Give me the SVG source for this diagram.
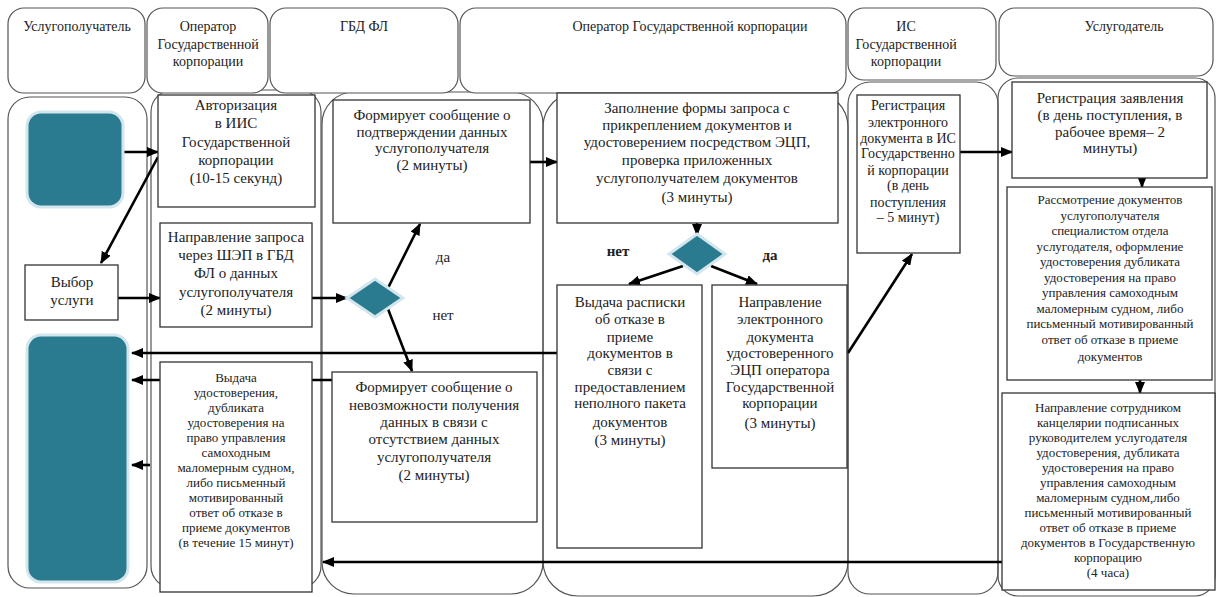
<svg xmlns="http://www.w3.org/2000/svg" width="1217" height="597" viewBox="0 0 1217 597">
<defs>
<style>
.lane{fill:none;stroke:#555;stroke-width:1.2}
.hdr{fill:#fff;stroke:#555;stroke-width:1.2}
.box{fill:#fff;stroke:#333;stroke-width:1.3}
.t{font-family:'Liberation Serif','Times New Roman','DejaVu Serif',serif;font-size:15px;fill:#222;text-anchor:middle}
.h{font-size:14px}
.m{font-size:14px}
.s{font-size:13px}
.b{font-weight:bold}
.c{stroke:#000;stroke-width:2.6;fill:none;marker-end:url(#ah)}
.teal{fill:#2a7a90;stroke:#d3e6ed;stroke-width:3}
</style>
<marker id="ah" markerWidth="12" markerHeight="10" refX="11" refY="5" orient="auto" markerUnits="userSpaceOnUse"><path d="M0,0 L12,5 L0,10 z" fill="#000"/></marker>
</defs>
<rect width="1217" height="597" fill="#fff"/>

<g id="lanes">
<rect class="lane" x="8" y="97" width="139" height="491" rx="22"/>
<rect class="lane" x="151" y="90" width="170" height="498" rx="22"/>
<rect class="lane" x="322" y="92" width="221" height="502" rx="32"/>
<rect class="lane" x="543" y="92" width="305" height="504" rx="35"/>
<rect class="lane" x="848" y="82" width="150" height="512" rx="22"/>
<rect class="lane" x="998" y="78" width="217" height="518" rx="20"/>
</g>

<g id="headers">
<g id="h1"><rect class="hdr" x="8" y="8" width="137" height="85" rx="16"/><text class="t h" x="77" y="31">Услугополучатель</text></g>
<g id="h2"><rect class="hdr" x="147" y="8" width="121" height="85" rx="16"/><text class="t h"><tspan x="208" y="31">Оператор</tspan><tspan x="208" y="49">Государственной</tspan><tspan x="208" y="66">корпорации</tspan></text></g>
<g id="h3"><rect class="hdr" x="270" y="8" width="188" height="85" rx="16"/><text class="t h" x="364" y="31">ГБД ФЛ</text></g>
<g id="h4"><rect class="hdr" x="460" y="8" width="386" height="85" rx="16"/><text class="t h" x="690" y="31">Оператор Государственной корпорации</text></g>
<g id="h5"><rect class="hdr" x="848" y="8" width="148" height="72" rx="16"/><text class="t h"><tspan x="906" y="31">ИС</tspan><tspan x="906" y="49">Государственной</tspan><tspan x="906" y="66">корпорации</tspan></text></g>
<g id="h6"><rect class="hdr" x="999" y="8" width="214" height="68" rx="16"/><text class="t h" x="1124" y="31">Услугодатель</text></g>
</g>

<g id="connectors">
<line class="c" x1="123" y1="152" x2="158" y2="152"/>
<line class="c" x1="158" y1="157" x2="101" y2="263"/>
<line class="c" x1="118" y1="298" x2="160" y2="298"/>
<line class="c" x1="312" y1="298" x2="347" y2="298"/>
<line class="c" x1="388" y1="288" x2="420" y2="224"/>
<line class="c" x1="388" y1="309" x2="412" y2="371"/>
<line class="c" x1="530" y1="162" x2="557" y2="162"/>
<line class="c" x1="697" y1="223" x2="697" y2="235"/>
<line class="c" x1="683" y1="266" x2="629" y2="284"/>
<line class="c" x1="711" y1="266" x2="757" y2="284"/>
<line class="c" x1="557" y1="353" x2="132" y2="353"/>
<line class="c" x1="332" y1="380" x2="132" y2="380"/>
<line class="c" x1="150" y1="465" x2="132" y2="465"/>
<line class="c" x1="848" y1="353" x2="912" y2="254"/>
<line class="c" x1="960" y1="152" x2="1012" y2="152"/>
<line class="c" x1="1142" y1="178" x2="1142" y2="187"/>
<line class="c" x1="1140" y1="380" x2="1140" y2="393"/>
<line class="c" x1="1005" y1="562" x2="323" y2="562"/>
</g>

<g id="start"><rect class="teal" x="27" y="112" width="96" height="95" rx="14"/></g>
<g id="end"><rect class="teal" x="27" y="335" width="101" height="247" rx="14"/></g>

<g id="choose"><rect class="box" x="25" y="265" width="93" height="55"/><text class="t"><tspan x="72" y="287">Выбор</tspan><tspan x="72" y="305">услуги</tspan></text></g>

<g id="auth"><rect class="box" x="158" y="95" width="157" height="112"/><text class="t"><tspan x="236" y="110">Авторизация</tspan><tspan x="236" y="128">в ИИС</tspan><tspan x="236" y="147">Государственной</tspan><tspan x="236" y="165">корпорации</tspan><tspan x="236" y="183">(10-15 секунд)</tspan></text></g>

<g id="request"><rect class="box" x="160" y="223" width="152" height="104"/><text class="t"><tspan x="236" y="242">Направление запроса</tspan><tspan x="236" y="260">через ШЭП в ГБД</tspan><tspan x="236" y="278">ФЛ о данных</tspan><tspan x="236" y="297">услугополучателя</tspan><tspan x="236" y="315">(2 минуты)</tspan></text></g>

<g id="issue"><rect class="box" x="160" y="362" width="152" height="230"/><text class="t s"><tspan x="236" y="382">Выдача</tspan><tspan x="236" y="397">удостоверения,</tspan><tspan x="236" y="412">дубликата</tspan><tspan x="236" y="427">удостоверения на</tspan><tspan x="236" y="442">право управления</tspan><tspan x="236" y="457">самоходным</tspan><tspan x="236" y="472">маломерным судном,</tspan><tspan x="236" y="487">либо письменный</tspan><tspan x="236" y="502">мотивированный</tspan><tspan x="236" y="517">ответ об отказе в</tspan><tspan x="236" y="532">приеме документов</tspan><tspan x="236" y="547">(в течение 15 минут)</tspan></text></g>

<g id="confirm"><rect class="box" x="333" y="100" width="197" height="123"/><text class="t"><tspan x="432" y="120">Формирует сообщение о</tspan><tspan x="432" y="137">подтверждении данных</tspan><tspan x="432" y="153">услугополучателя</tspan><tspan x="432" y="170">(2 минуты)</tspan></text></g>

<g id="dec1"><polygon points="375,279 403,298 375,317 347,298" fill="#2a7a90" stroke="#d3e6ed" stroke-width="3"/></g>

<g id="labels1"><text class="t" x="443" y="262">да</text><text class="t" x="443" y="320">нет</text></g>

<g id="nodata"><rect class="box" x="332" y="372" width="205" height="150"/><text class="t"><tspan x="434" y="392">Формирует сообщение о</tspan><tspan x="434" y="410">невозможности получения</tspan><tspan x="434" y="427">данных в связи с</tspan><tspan x="434" y="444">отсутствием данных</tspan><tspan x="434" y="462">услугополучателя</tspan><tspan x="434" y="480">(2 минуты)</tspan></text></g>

<g id="fill"><rect class="box" x="557" y="93" width="281" height="130"/><text class="t"><tspan x="697" y="113">Заполнение формы запроса с</tspan><tspan x="697" y="130">прикреплением документов и</tspan><tspan x="697" y="147">удостоверением посредством ЭЦП,</tspan><tspan x="697" y="165">проверка приложенных</tspan><tspan x="697" y="183">услугополучателем документов</tspan><tspan x="697" y="202">(3 минуты)</tspan></text></g>

<g id="dec2"><polygon points="697,234 725,254 697,274 669,254" fill="#2a7a90" stroke="#d3e6ed" stroke-width="3"/></g>

<g id="labels2"><text class="t b" x="618" y="256">нет</text><text class="t b" x="770" y="260">да</text></g>

<g id="refuse"><rect class="box" x="557" y="285" width="145" height="263"/><text class="t"><tspan x="630" y="307">Выдача расписки</tspan><tspan x="630" y="324">об отказе в</tspan><tspan x="630" y="342">приеме</tspan><tspan x="630" y="358">документов в</tspan><tspan x="630" y="375">связи с</tspan><tspan x="630" y="392">предоставлением</tspan><tspan x="630" y="408">неполного пакета</tspan><tspan x="630" y="427">документов</tspan><tspan x="630" y="445">(3 минуты)</tspan></text></g>

<g id="send"><rect class="box" x="712" y="285" width="135" height="183"/><text class="t"><tspan x="780" y="307">Направление</tspan><tspan x="780" y="324">электронного</tspan><tspan x="780" y="342">документа</tspan><tspan x="780" y="358">удостоверенного</tspan><tspan x="780" y="375">ЭЦП оператора</tspan><tspan x="780" y="392">Государственной</tspan><tspan x="780" y="408">корпорации</tspan><tspan x="780" y="428">(3 минуты)</tspan></text></g>

<g id="regdoc"><rect class="box" x="857" y="95" width="103" height="158"/><text class="t m"><tspan x="908" y="110">Регистрация</tspan><tspan x="908" y="127">электронного</tspan><tspan x="908" y="143">документа в ИС</tspan><tspan x="908" y="158">Государственно</tspan><tspan x="908" y="175">й корпорации</tspan><tspan x="908" y="190">(в день</tspan><tspan x="908" y="207">поступления</tspan><tspan x="908" y="222">– 5 минут)</tspan></text></g>

<g id="regapp"><rect class="box" x="1012" y="82" width="195" height="96"/><text class="t"><tspan x="1110" y="103">Регистрация заявления</tspan><tspan x="1110" y="120">(в день поступления, в</tspan><tspan x="1110" y="137">рабочее время– 2</tspan><tspan x="1110" y="153">минуты)</tspan></text></g>

<g id="review"><rect class="box" x="1007" y="187" width="205" height="193"/><text class="t s"><tspan x="1110" y="204">Рассмотрение документов</tspan><tspan x="1110" y="219.5">услугополучателя</tspan><tspan x="1110" y="235">специалистом отдела</tspan><tspan x="1110" y="250.5">услугодателя, оформление</tspan><tspan x="1110" y="266">удостоверения дубликата</tspan><tspan x="1110" y="281.5">удостоверения на право</tspan><tspan x="1110" y="297">управления самоходным</tspan><tspan x="1110" y="312.5">маломерным судном, либо</tspan><tspan x="1110" y="328">письменный мотивированный</tspan><tspan x="1110" y="343.5">ответ об отказе в приеме</tspan><tspan x="1110" y="361">документов</tspan></text></g>

<g id="dispatch"><rect class="box" x="1002" y="393" width="213" height="197"/><text class="t s"><tspan x="1108" y="412">Направление сотрудником</tspan><tspan x="1108" y="427">канцелярии подписанных</tspan><tspan x="1108" y="442">руководителем услугодателя</tspan><tspan x="1108" y="457">удостоверения, дубликата</tspan><tspan x="1108" y="472">удостоверения на право</tspan><tspan x="1108" y="487">управления самоходным</tspan><tspan x="1108" y="502">маломерным судном,либо</tspan><tspan x="1108" y="517">письменный мотивированный</tspan><tspan x="1108" y="532">ответ об отказе в приеме</tspan><tspan x="1108" y="547">документов в Государственную</tspan><tspan x="1108" y="562">корпорацию</tspan><tspan x="1108" y="577">(4 часа)</tspan></text></g>
</svg>
